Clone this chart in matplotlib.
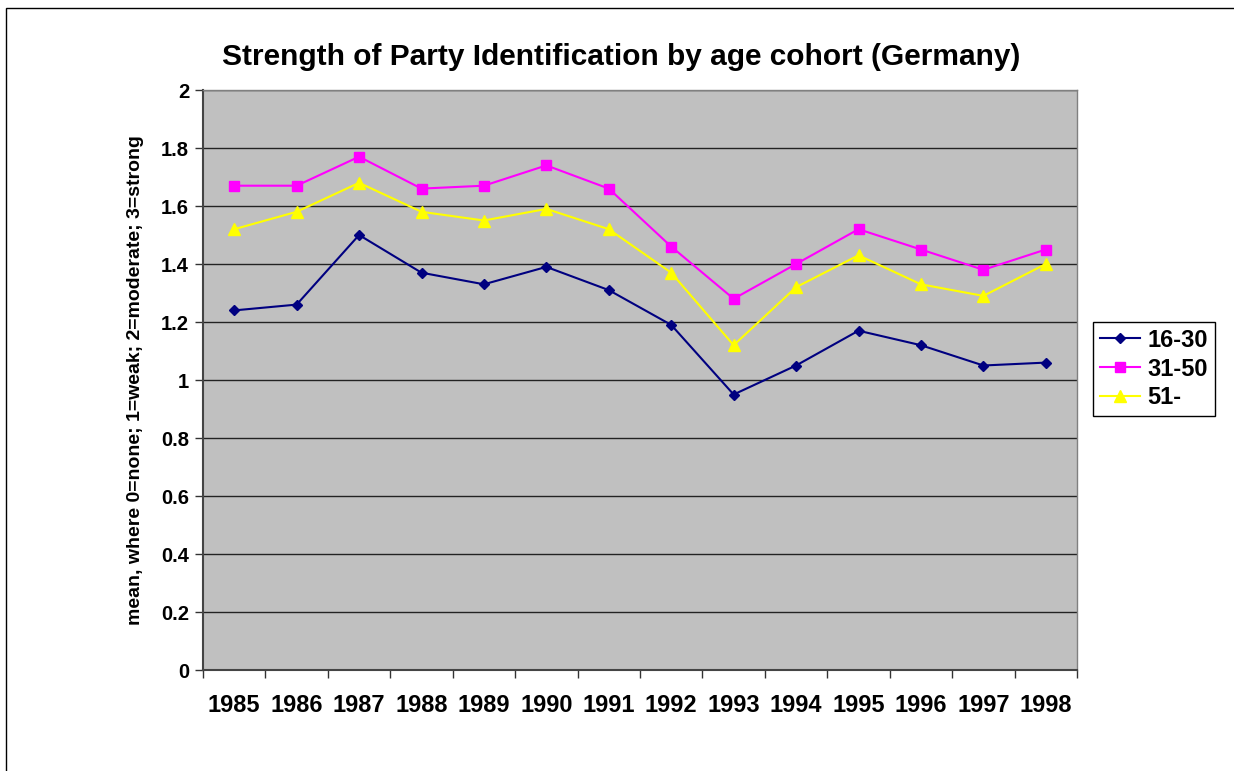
import matplotlib
matplotlib.use("Agg")
import matplotlib.pyplot as plt
from matplotlib.patches import Rectangle
import numpy as np

# 데이터
years = ['1985', '1986', '1987', '1988', '1989', '1990', '1991',
         '1992', '1993', '1994', '1995', '1996', '1997', '1998']
age_16_30 = [1.24, 1.26, 1.50, 1.37, 1.33, 1.39, 1.31, 1.19, 0.95, 1.05, 1.17, 1.12, 1.05, 1.06]
age_31_50 = [1.67, 1.67, 1.77, 1.66, 1.67, 1.74, 1.66, 1.46, 1.28, 1.40, 1.52, 1.45, 1.38, 1.45]
age_51 = [1.52, 1.58, 1.68, 1.58, 1.55, 1.59, 1.52, 1.37, 1.12, 1.32, 1.43, 1.33, 1.29, 1.40]
yticks = [0, 0.2, 0.4, 0.6, 0.8, 1, 1.2, 1.4, 1.6, 1.8, 2]
ytick_labels = ['0', '0.2', '0.4', '0.6', '0.8', '1', '1.2', '1.4', '1.6', '1.8', '2']

plt.rcParams['font.family'] = ['Liberation Sans', 'DejaVu Sans']
plt.rcParams['font.weight'] = 'bold'

W, H = 1234, 771
fig = plt.figure(figsize=(W / 100, H / 100), dpi=100)

# 바깥 테두리
fig.patches.append(Rectangle((6 / W, -0.1), 1.2, 1 - 8 / H + 0.1, transform=fig.transFigure,
                             fill=False, edgecolor='black', linewidth=1.0))

ax = fig.add_axes([203 / W, 1 - 670 / H, (1077 - 203) / W, (670 - 90) / H])
ax.set_facecolor('#C0C0C0')

x = np.arange(len(years)) + 0.5
ax.plot(x, age_16_30, color='#000080', marker='D', markersize=5.5, linewidth=1.5, label='16-30')
ax.plot(x, age_31_50, color='#FF00FF', marker='s', markersize=7, linewidth=1.5, label='31-50')
ax.plot(x, age_51, color='#FFFF00', marker='^', markersize=8, linewidth=1.5, label='51-')

ax.set_xlim(0, len(years))
ax.set_ylim(0, 2)

# 눈금: 범주 경계에 눈금선, 가운데에 라벨
ax.set_xticks(np.arange(len(years) + 1))
ax.set_xticklabels([])
ax.set_xticks(x, minor=True)
ax.set_xticklabels(years, minor=True, fontsize=17, fontweight='bold')
ax.tick_params(axis='x', which='major', direction='out', length=6, width=1, color='#333333')
ax.tick_params(axis='x', which='minor', length=0, pad=17)

ax.set_yticks(yticks)
ax.set_yticklabels(ytick_labels, fontsize=14.5, fontweight='bold')
ax.tick_params(axis='y', direction='out', length=6, width=1, color='#333333', pad=4)

ax.yaxis.grid(True, color='#222222', linewidth=1)
ax.set_axisbelow(True)

for side in ['left', 'bottom']:
    ax.spines[side].set_color('#444444')
    ax.spines[side].set_linewidth(1.5)
for side in ['top', 'right']:
    ax.spines[side].set_color('#808080')
    ax.spines[side].set_linewidth(1)

ax.set_ylabel('mean, where 0=none; 1=weak; 2=moderate; 3=strong', fontsize=14,
              fontweight='bold', labelpad=12)

fig.text(621 / W, 1 - 57 / H, 'Strength of Party Identification by age cohort (Germany)',
         ha='center', va='center', fontsize=21.5, fontweight='bold')

leg = ax.legend(loc='center left', bbox_to_anchor=(1093 / W, 1 - 369 / H), bbox_transform=fig.transFigure,
                fontsize=17, frameon=True, fancybox=False, edgecolor='black', framealpha=1,
                handlelength=1.7, handletextpad=0.3, borderpad=0.3, labelspacing=0.25,
                borderaxespad=0)
leg.get_frame().set_linewidth(1)
for t in leg.get_texts():
    t.set_fontweight('bold')

fig.savefig('out.png', dpi=100)
